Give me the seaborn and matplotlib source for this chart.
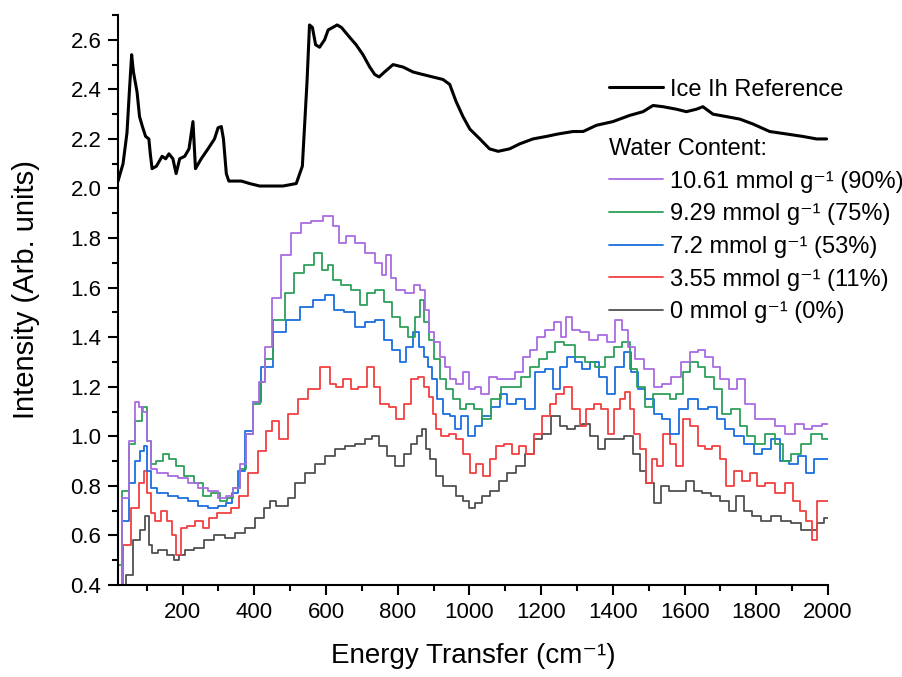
import matplotlib
matplotlib.use("Agg")
import matplotlib.pyplot as plt
import numpy as np
import pandas as pd
import seaborn as sns
from matplotlib.ticker import MultipleLocator

sns.set_theme(style="ticks")
plt.rcParams["font.family"] = ["Liberation Sans", "DejaVu Sans"]
plt.rcParams.update({"text.color": "black", "axes.labelcolor": "black"})

# ice Ih reference (smooth line)
ice_x = [20, 34, 45, 52, 58, 63, 73, 80, 88, 97, 106, 110, 115, 127, 143, 153,
         162, 173, 182, 192, 206, 218, 222, 229, 236, 252, 271, 289, 299, 308,
         314, 322, 329, 364, 387, 415, 480, 517, 534, 547, 554, 562, 571, 582,
         596, 606, 619, 631, 643, 666, 684, 703, 722, 736, 748, 763, 787, 815,
         843, 870, 898, 926, 945, 963, 982, 1001, 1029, 1056, 1080, 1112,
         1140, 1177, 1214, 1247, 1289, 1317, 1354, 1400, 1447, 1484, 1512,
         1540, 1577, 1605, 1633, 1651, 1679, 1717, 1754, 1791, 1837, 1884,
         1930, 1968, 1996]
ice_y = [2.03, 2.10, 2.225, 2.40, 2.54, 2.47, 2.39, 2.29, 2.25, 2.21, 2.20,
         2.14, 2.08, 2.09, 2.13, 2.12, 2.14, 2.12, 2.06, 2.12, 2.13, 2.16,
         2.20, 2.27, 2.08, 2.12, 2.16, 2.20, 2.245, 2.25, 2.20, 2.06, 2.03,
         2.03, 2.02, 2.01, 2.01, 2.02, 2.09, 2.43, 2.66, 2.65, 2.58, 2.57,
         2.60, 2.64, 2.65, 2.66, 2.65, 2.61, 2.58, 2.54, 2.49, 2.46, 2.45,
         2.47, 2.50, 2.49, 2.47, 2.46, 2.45, 2.44, 2.42, 2.35, 2.29, 2.24,
         2.20, 2.16, 2.15, 2.16, 2.18, 2.20, 2.21, 2.22, 2.23, 2.23, 2.255,
         2.27, 2.295, 2.31, 2.335, 2.33, 2.32, 2.31, 2.32, 2.33, 2.30, 2.29,
         2.28, 2.26, 2.23, 2.22, 2.21, 2.20, 2.20]

# 10.61 mmol/g (90%)
p90_x = [20, 41, 60, 74, 83, 97, 107, 116, 144, 172, 200, 228, 256, 284, 312,
         331, 350, 368, 387, 406, 420, 440, 461, 489, 517, 545, 573, 610, 629,
         643, 666, 694, 722, 749, 763, 773, 787, 805, 833, 856, 870, 880, 893,
         907, 926, 940, 954, 972, 991, 1005, 1024, 1042, 1065, 1089, 1112,
         1140, 1158, 1177, 1200, 1223, 1247, 1261, 1275, 1298, 1321, 1344,
         1372, 1395, 1418, 1432, 1451, 1474, 1502, 1525, 1549, 1577, 1604,
         1628, 1646, 1670, 1688, 1711, 1735, 1758, 1781, 1809, 1837, 1865,
         1893, 1921, 1944, 1967, 2000]
p90_y = [0.40, 0.75, 0.98, 1.14, 1.12, 1.10, 0.98, 0.87, 0.85, 0.84, 0.83,
         0.81, 0.79, 0.78, 0.75, 0.76, 0.79, 0.89, 1.01, 1.14, 1.22, 1.36,
         1.56, 1.73, 1.82, 1.86, 1.87, 1.89, 1.85, 1.78, 1.81, 1.78, 1.74,
         1.70, 1.65, 1.73, 1.64, 1.59, 1.58, 1.61, 1.59, 1.51, 1.42, 1.38,
         1.32, 1.28, 1.23, 1.21, 1.26, 1.19, 1.20, 1.17, 1.24, 1.23, 1.23,
         1.26, 1.32, 1.35, 1.40, 1.43, 1.46, 1.40, 1.48, 1.43, 1.42, 1.39,
         1.41, 1.38, 1.47, 1.43, 1.36, 1.31, 1.27, 1.20, 1.21, 1.24, 1.30,
         1.34, 1.35, 1.32, 1.28, 1.23, 1.19, 1.23, 1.13, 1.07, 1.07, 1.04,
         1.01, 1.05, 1.03, 1.04, 1.05]

# 9.29 mmol/g (75%)
p75_x = [20, 41, 60, 74, 97, 107, 116, 135, 154, 172, 191, 219, 247, 265, 294,
         317, 331, 350, 368, 387, 406, 424, 433, 471, 498, 526, 554, 577, 601,
         610, 629, 656, 684, 708, 722, 749, 773, 796, 819, 838, 856, 868, 880,
         893, 907, 926, 945, 963, 982, 1000, 1024, 1047, 1075, 1103, 1130,
         1158, 1182, 1205, 1228, 1251, 1279, 1307, 1335, 1363, 1391, 1414,
         1437, 1456, 1479, 1502, 1521, 1549, 1567, 1586, 1604, 1628, 1646,
         1670, 1693, 1716, 1744, 1763, 1786, 1809, 1837, 1865, 1884, 1911,
         1939, 1967, 2000]
p75_y = [0.48, 0.78, 0.97, 1.06, 1.12, 0.98, 0.89, 0.90, 0.93, 0.91, 0.88,
         0.84, 0.81, 0.76, 0.77, 0.74, 0.75, 0.79, 0.87, 1.01, 1.13, 1.22,
         1.31, 1.47, 1.58, 1.66, 1.69, 1.74, 1.67, 1.69, 1.63, 1.61, 1.59,
         1.53, 1.58, 1.59, 1.54, 1.48, 1.44, 1.40, 1.48, 1.55, 1.46, 1.39,
         1.31, 1.23, 1.19, 1.15, 1.11, 1.13, 1.11, 1.07, 1.15, 1.20, 1.20,
         1.24, 1.28, 1.31, 1.34, 1.38, 1.37, 1.32, 1.30, 1.28, 1.32, 1.36,
         1.38, 1.27, 1.20, 1.12, 1.17, 1.17, 1.15, 1.17, 1.26, 1.30, 1.28,
         1.24, 1.19, 1.09, 1.11, 1.04, 1.00, 0.97, 1.01, 0.97, 0.90, 0.93,
         0.97, 1.01, 0.99]

# 7.2 mmol/g (53%)
p53_x = [20, 41, 60, 74, 88, 97, 107, 116, 144, 172, 200, 228, 256, 284, 312,
         331, 345, 363, 387, 406, 433, 471, 508, 545, 582, 610, 633, 666, 694,
         722, 749, 773, 796, 814, 833, 852, 866, 880, 889, 903, 917, 935, 954,
         968, 986, 1005, 1024, 1047, 1075, 1093, 1117, 1140, 1168, 1196, 1223,
         1242, 1261, 1285, 1302, 1325, 1349, 1372, 1395, 1418, 1442, 1460,
         1479, 1502, 1525, 1549, 1572, 1595, 1623, 1651, 1679, 1702, 1725,
         1753, 1781, 1804, 1828, 1855, 1879, 1902, 1930, 1948, 1972, 2000]
p53_y = [0.40, 0.66, 0.81, 0.90, 0.94, 0.96, 0.86, 0.79, 0.77, 0.76, 0.75,
         0.74, 0.72, 0.71, 0.72, 0.73, 0.77, 0.86, 1.02, 1.14, 1.28, 1.42,
         1.47, 1.52, 1.55, 1.57, 1.51, 1.50, 1.44, 1.46, 1.47, 1.39, 1.35,
         1.30, 1.36, 1.42, 1.36, 1.32, 1.28, 1.23, 1.15, 1.09, 1.08, 1.03,
         1.08, 1.00, 1.04, 1.08, 1.12, 1.17, 1.13, 1.15, 1.11, 1.26, 1.27,
         1.19, 1.28, 1.32, 1.30, 1.27, 1.30, 1.24, 1.17, 1.28, 1.34, 1.26,
         1.19, 1.15, 1.09, 1.07, 1.01, 1.11, 1.15, 1.11, 1.12, 1.07, 1.03,
         1.00, 0.97, 0.93, 0.95, 0.99, 0.90, 0.89, 0.92, 0.85, 0.91, 0.91]

# 3.55 mmol/g (11%)
p11_x = [20, 46, 69, 88, 97, 107, 116, 130, 149, 163, 177, 189, 200, 223, 247,
         265, 284, 307, 326, 345, 368, 396, 424, 443, 458, 478, 508, 536, 564,
         601, 619, 638, 657, 680, 700, 726, 740, 763, 787, 805, 828, 847, 866,
         880, 893, 903, 912, 931, 954, 972, 991, 1010, 1028, 1047, 1065, 1084,
         1107, 1130, 1149, 1168, 1191, 1214, 1233, 1251, 1275, 1298, 1316,
         1335, 1358, 1377, 1395, 1409, 1428, 1442, 1451, 1465, 1484, 1502,
         1516, 1530, 1549, 1567, 1586, 1604, 1628, 1646, 1665, 1688, 1707,
         1725, 1749, 1772, 1790, 1814, 1837, 1865, 1893, 1911, 1930, 1948,
         1962, 1976, 2000]
p11_y = [0.40, 0.56, 0.71, 0.81, 0.86, 0.77, 0.69, 0.66, 0.70, 0.66, 0.60,
         0.52, 0.63, 0.64, 0.66, 0.63, 0.67, 0.69, 0.69, 0.71, 0.76, 0.85,
         0.94, 1.02, 1.06, 0.99, 1.09, 1.15, 1.19, 1.28, 1.21, 1.20, 1.23,
         1.19, 1.20, 1.28, 1.20, 1.13, 1.12, 1.07, 1.13, 1.23, 1.24, 1.20,
         1.16, 1.09, 1.03, 1.00, 1.01, 0.99, 0.93, 0.85, 0.89, 0.84, 0.91,
         0.96, 0.97, 0.93, 0.96, 0.93, 1.01, 1.08, 1.13, 1.17, 1.20, 1.11,
         1.04, 1.11, 1.13, 1.11, 1.01, 1.11, 1.15, 1.18, 1.11, 1.01, 0.95,
         0.81, 0.91, 0.88, 1.01, 0.97, 0.88, 1.07, 1.04, 0.96, 0.95, 0.96,
         0.91, 0.80, 0.86, 0.82, 0.85, 0.80, 0.81, 0.77, 0.81, 0.74, 0.70,
         0.66, 0.58, 0.74, 0.74]

# 0 mmol/g (0%)
p0_x = [36, 50, 74, 88, 100, 111, 121, 144, 167, 186, 195, 219, 247, 275, 303,
        331, 359, 387, 415, 438, 452, 471, 489, 499, 527, 555, 583, 611, 639,
        666, 694, 722, 735, 759, 782, 805, 828, 847, 861, 873, 884, 898, 917,
        935, 954, 972, 991, 1005, 1024, 1047, 1070, 1093, 1117, 1140, 1168,
        1191, 1214, 1242, 1261, 1284, 1302, 1325, 1349, 1367, 1391, 1418,
        1446, 1465, 1484, 1502, 1525, 1544, 1567, 1591, 1614, 1637, 1660,
        1688, 1711, 1735, 1753, 1777, 1800, 1828, 1855, 1884, 1911, 1939,
        1962, 1976, 2000]
p0_y = [0.40, 0.44, 0.58, 0.62, 0.68, 0.56, 0.53, 0.54, 0.52, 0.50, 0.52,
        0.54, 0.55, 0.58, 0.60, 0.59, 0.61, 0.63, 0.67, 0.71, 0.74, 0.72,
        0.72, 0.75, 0.81, 0.85, 0.89, 0.92, 0.95, 0.96, 0.97, 0.99, 1.00,
        0.96, 0.92, 0.88, 0.93, 0.97, 1.00, 1.03, 0.95, 0.91, 0.84, 0.80,
        0.80, 0.76, 0.74, 0.71, 0.73, 0.76, 0.78, 0.82, 0.85, 0.88, 0.93,
        0.99, 1.01, 1.08, 1.04, 1.03, 1.04, 1.05, 1.00, 0.95, 0.99, 0.99,
        1.00, 0.93, 0.86, 0.81, 0.73, 0.80, 0.78, 0.78, 0.82, 0.78, 0.77,
        0.76, 0.74, 0.70, 0.76, 0.70, 0.68, 0.66, 0.68, 0.66, 0.65, 0.62,
        0.62, 0.65, 0.67]

labels = ["10.61 mmol g⁻¹ (90%)", "9.29 mmol g⁻¹ (75%)",
          "7.2 mmol g⁻¹ (53%)", "3.55 mmol g⁻¹ (11%)",
          "0 mmol g⁻¹ (0%)"]
colors = ["#A96BE0", "#2DA05A", "#1B6EE0", "#F24040", "#505050"]
series = [(p90_x, p90_y), (p75_x, p75_y), (p53_x, p53_y),
          (p11_x, p11_y), (p0_x, p0_y)]

fig = plt.figure(figsize=(9.03, 6.77), dpi=100)
ax = fig.add_axes([0.1307, 0.1359, 0.7863, 0.8419])

handles = {}
# draw lowest first so the high-water curves sit on top
for (xs, ys), lab, col in reversed(list(zip(series, labels, colors))):
    df = pd.DataFrame({"E": xs, "I": ys})
    sns.lineplot(data=df, x="E", y="I", ax=ax, color=col, linewidth=1.3,
                 drawstyle="steps-mid", legend=False)
    handles[lab] = ax.lines[-1]

ice_df = pd.DataFrame({"E": ice_x, "I": ice_y})
sns.lineplot(data=ice_df, x="E", y="I", ax=ax, color="black", linewidth=2.2,
             legend=False)
ice_line = ax.lines[-1]

ax.set_xlim(20, 2000)
ax.set_ylim(0.4, 2.7)
ax.xaxis.set_major_locator(MultipleLocator(200))
ax.xaxis.set_minor_locator(MultipleLocator(100))
ax.yaxis.set_major_locator(MultipleLocator(0.2))
ax.yaxis.set_minor_locator(MultipleLocator(0.1))
ax.tick_params(which="major", length=7, width=1.5, labelsize=16, pad=5,
               color="black", labelcolor="black")
ax.tick_params(which="minor", length=4, width=1.5, color="black")
for s in ["left", "bottom"]:
    ax.spines[s].set_linewidth(1.5)
    ax.spines[s].set_color("black")
sns.despine(ax=ax)

ax.set_xlabel("Energy Transfer (cm⁻¹)", fontsize=20, labelpad=15)
ax.set_ylabel("Intensity (Arb. units)", fontsize=21)
ax.yaxis.set_label_coords(-0.11, 0.519)

leg1 = ax.legend([ice_line], ["Ice Ih Reference"], loc="upper left",
                 bbox_to_anchor=(0.6744, 0.884), bbox_transform=fig.transFigure,
                 frameon=False, fontsize=17, handlelength=2.3,
                 handletextpad=0.3, borderpad=0, borderaxespad=0)
ax.add_artist(leg1)
ax.legend([handles[l] for l in labels], labels, loc="upper left",
          bbox_to_anchor=(0.6744, 0.796), bbox_transform=fig.transFigure,
          frameon=False, fontsize=17, title="Water Content:",
          title_fontsize=17, alignment="left", handlelength=2.3,
          handletextpad=0.3, borderpad=0, borderaxespad=0,
          labelspacing=0.45)

fig.savefig("out.png", dpi=100)
